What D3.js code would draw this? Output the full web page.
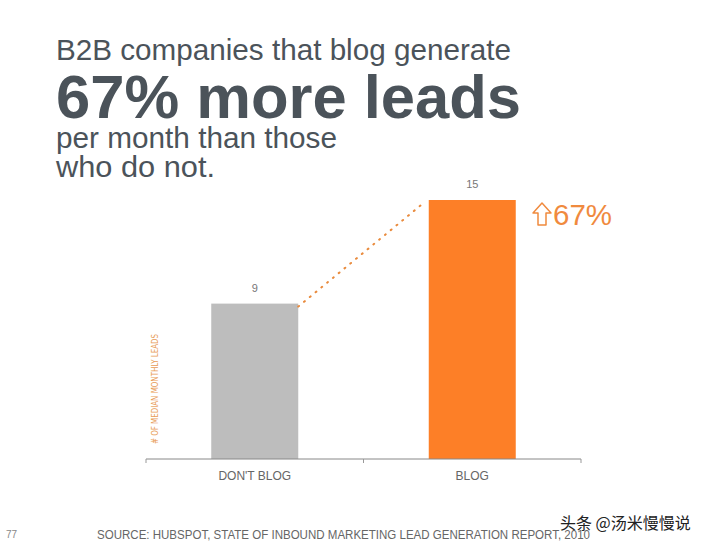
<!DOCTYPE html>
<html><head><meta charset="utf-8">
<script src="https://cdn.jsdelivr.net/npm/d3@7"></script>
<style>body{margin:0;background:#fff}svg{display:block}</style>
</head><body>
<script>
const categories = ["DON'T BLOG", "BLOG"];
const values = [9, 15];
const barColors = ["#bdbdbd", "#fd7f27"];
const titleLines = ["B2B companies that blog generate", "67% more leads", "per month than those", "who do not."];
const yLabel = "# OF MEDIAN MONTHLY LEADS";
const increaseLabel = "67%";
const sourceText = "SOURCE: HUBSPOT, STATE OF INBOUND MARKETING LEAD GENERATION REPORT, 2010";
const pageNumber = "77";

const W = 728, H = 546;
const svg = d3.select("body").append("svg").attr("width", W).attr("height", H);
const font = "'Liberation Sans', Arial, Helvetica, sans-serif";
const titleColor = "#4b535a";

// Title
function titleLine(txt, yPos, size, len, bold) {
  svg.append("text").attr("x", 56).attr("y", yPos).attr("font-family", font).attr("font-size", size)
    .attr("font-weight", bold ? "bold" : "normal").attr("fill", titleColor)
    .attr("textLength", len).attr("lengthAdjust", "spacingAndGlyphs").text(txt);
}
titleLine(titleLines[0], 60, 29, 455, false);
titleLine(titleLines[1], 118, 61, 465, true);
titleLine(titleLines[2], 148, 29, 281, false);
titleLine(titleLines[3], 177, 29, 159, false);

// Scales
const x = d3.scaleBand().domain(categories).range([146, 581]).paddingInner(0.6).paddingOuter(0.3);
const y = d3.scaleLinear().domain([0, 15]).range([459, 200]);

// Bars
svg.selectAll("rect.bar").data(values).join("rect").attr("class", "bar")
  .attr("x", (d, i) => x(categories[i])).attr("width", x.bandwidth())
  .attr("y", d => y(d)).attr("height", d => y(0) - y(d))
  .attr("fill", (d, i) => barColors[i]);

// Value labels
svg.selectAll("text.val").data(values).join("text").attr("class", "val")
  .attr("x", (d, i) => x(categories[i]) + x.bandwidth() / 2).attr("y", d => y(d) - 12)
  .attr("text-anchor", "middle").attr("font-family", font).attr("font-size", 11).attr("fill", "#777")
  .text(d => d);

// Dotted connector
svg.append("line")
  .attr("x1", x(categories[0]) + x.bandwidth()).attr("y1", y(values[0]) + 3)
  .attr("x2", x(categories[1]) - 4).attr("y2", y(values[1]) + 2)
  .attr("stroke", "#e98a3c").attr("stroke-width", 2).attr("stroke-dasharray", "1,6.5").attr("stroke-linecap", "round");

// X axis
const axisG = svg.append("g").attr("transform", `translate(0,${y(0)})`);
axisG.append("line").attr("x1", 146).attr("x2", 581).attr("stroke", "#888").attr("stroke-width", 1);
const tickPos = [146, 146 + x.step(), 581];
axisG.selectAll("line.tick").data(tickPos).join("line").attr("class", "tick")
  .attr("x1", d => d).attr("x2", d => d).attr("y1", 0).attr("y2", 4).attr("stroke", "#999");
axisG.selectAll("text.cat").data(categories).join("text").attr("class", "cat")
  .attr("x", d => x(d) + x.bandwidth() / 2).attr("y", 21)
  .attr("text-anchor", "middle").attr("font-family", font).attr("font-size", 12).attr("fill", "#666")
  .text(d => d);

// Y label
svg.append("text").attr("transform", "translate(158,389) rotate(-90)")
  .attr("text-anchor", "middle").attr("font-family", "'Liberation Sans Narrow', 'DejaVu Sans Condensed', sans-serif")
  .attr("font-size", 9).attr("fill", "#e89c58").attr("textLength", 110).attr("lengthAdjust", "spacingAndGlyphs")
  .text(yLabel);

// Increase annotation
const arrow = svg.append("g").attr("transform", "translate(533,203)");
arrow.append("path")
  .attr("d", "M9,0 L18,10 L13,10 L13,22 L5,22 L5,10 L0,10 Z")
  .attr("fill", "none").attr("stroke", "#f08a3e").attr("stroke-width", 1.5).attr("stroke-linejoin", "round");
svg.append("text").attr("x", 553).attr("y", 225).attr("font-family", font).attr("font-size", 29)
  .attr("fill", "#f08a3e").attr("textLength", 59).attr("lengthAdjust", "spacingAndGlyphs").text(increaseLabel);

// Footer
svg.append("text").attr("x", 6).attr("y", 538).attr("font-family", font).attr("font-size", 10).attr("fill", "#888").text(pageNumber);
svg.append("text").attr("x", 97).attr("y", 539).attr("font-family", font).attr("font-size", 12).attr("fill", "#666")
  .attr("textLength", 493).attr("lengthAdjust", "spacingAndGlyphs").text(sourceText);
svg.append("text").attr("x", 560).attr("y", 529).attr("font-family", "'Noto Sans CJK SC', sans-serif").attr("font-size", 16)
  .attr("fill", "#222").text("头条 @汤米慢慢说");
</script>
</body></html>
